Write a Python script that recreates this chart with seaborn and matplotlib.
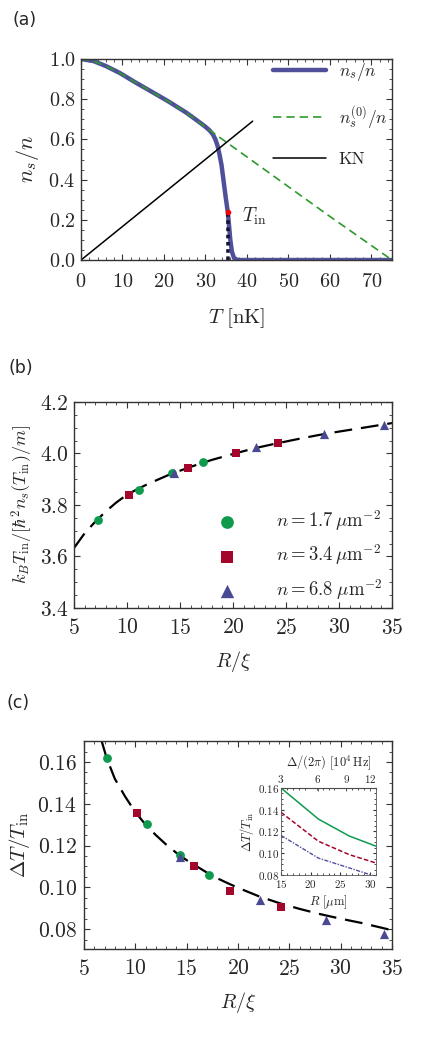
import numpy as np
import matplotlib
matplotlib.use("Agg")
import matplotlib.pyplot as plt
import seaborn as sns
from matplotlib.ticker import MultipleLocator

# ---- panel (a): superfluid fraction vs temperature
T_ns = [0, 3, 6, 9.4, 13, 17.4, 21, 25.4, 28, 30, 31, 31.8, 32.4, 32.9, 33.4, 33.9,
        34.4, 34.9, 35.4, 35.7, 36.0, 36.4, 36.9, 37.8, 45, 60, 75]
ns = [1.0, 0.99, 0.965, 0.93, 0.885, 0.833, 0.79, 0.733, 0.694, 0.663, 0.645, 0.625,
      0.60, 0.57, 0.525, 0.47, 0.39, 0.31, 0.237, 0.17, 0.10, 0.04, 0.01, 0.0, 0.0,
      0.0, 0.0]
T_ns0 = [0, 3, 6, 9.4, 13, 17.4, 21, 25.4, 30.2, 40, 50, 60, 75]
ns0 = [1.0, 0.99, 0.965, 0.93, 0.885, 0.833, 0.79, 0.733, 0.658, 0.513, 0.365, 0.217, 0.0]
T_kn = [0, 41.4]
kn = [0, 0.691]
T_in = 35.4
ns_in = 0.237

# ---- panel (b): k_B T_in / [hbar^2 n_s / m] vs R/xi
r_g = [7.23, 11.16, 14.27, 17.16]
b_g = [3.740, 3.860, 3.924, 3.966]
r_r = [10.22, 15.71, 20.24, 24.23]
b_r = [3.838, 3.945, 4.002, 4.041]
r_b = [14.39, 22.19, 28.6, 34.25]
b_b = [3.924, 4.025, 4.077, 4.109]
r_fit_b = [5, 6, 7, 8, 9, 10, 11, 12, 14, 16, 18, 20, 22, 24, 26, 28, 30, 32, 35]
fit_b = [3.633, 3.69, 3.735, 3.775, 3.81, 3.84, 3.862, 3.882, 3.918, 3.948, 3.975,
         3.998, 4.02, 4.038, 4.055, 4.071, 4.085, 4.098, 4.118]

# ---- panel (c): Delta T / T_in vs R/xi
c_g = [0.1619, 0.1301, 0.1155, 0.1061]
c_r = [0.1357, 0.1102, 0.0983, 0.0908]
c_b = [0.1147, 0.0940, 0.0845, 0.0778]
r_g_c = [7.21, 11.1, 14.34, 17.16]
r_r_c = [10.12, 15.7, 19.2, 24.2]
r_b_c = [14.37, 22.19, 28.6, 34.2]
r_fit_c = [6.72, 7.2, 8, 9, 10, 11, 12, 13, 14, 15, 16, 17, 18, 19, 20, 22, 24, 26,
           28, 30, 32, 35]
fit_c = [0.170, 0.162, 0.152, 0.1435, 0.136, 0.130, 0.125, 0.1205, 0.1165, 0.113,
         0.110, 0.107, 0.1043, 0.102, 0.0998, 0.0958, 0.0925, 0.0897, 0.0872, 0.085,
         0.083, 0.0795]

# ---- inset: Delta T / T_in vs R [um]
R_um = [15, 21.3, 26.5, 31]
in_g = [0.16, 0.1314, 0.1158, 0.1065]
in_r = [0.1376, 0.111, 0.0987, 0.091]
in_b = [0.1164, 0.0955, 0.0865, 0.0785]

labels_n = [r'$n = 1.7\,\mu\mathrm{m}^{-2}$', r'$n = 3.4\,\mu\mathrm{m}^{-2}$',
            r'$n = 6.8\;\mu\mathrm{m}^{-2}$']

green = '#0f9a4e'
red = '#a3062a'
blue = '#4a4a94'

sns.set_style("ticks")
plt.rcParams['font.family'] = ['cmr10', 'DejaVu Serif']
plt.rcParams['mathtext.fontset'] = 'cm'
plt.rcParams['axes.formatter.use_mathtext'] = True
plt.rcParams['axes.unicode_minus'] = False


def style_axes(ax, xmaj, xmin, ymaj, ymin, size, xpad, ypad, maj=4, mnr=2):
    ax.xaxis.set_major_locator(MultipleLocator(xmaj))
    ax.xaxis.set_minor_locator(MultipleLocator(xmin))
    ax.yaxis.set_major_locator(MultipleLocator(ymaj))
    ax.yaxis.set_minor_locator(MultipleLocator(ymin))
    ax.tick_params(which='both', direction='in', top=True, right=True,
                   color='#333333', labelsize=size)
    ax.tick_params(axis='x', which='major', pad=xpad)
    ax.tick_params(axis='y', which='major', pad=ypad)
    ax.tick_params(which='major', length=maj, width=0.8)
    ax.tick_params(which='minor', length=mnr, width=0.6)
    for s in ax.spines.values():
        s.set_color('#333333')
        s.set_linewidth(1.0)


fig = plt.figure(figsize=(4.22, 10.43), dpi=100)

# ================= (a)
ax = fig.add_axes([0.192, 0.7507, 0.737, 0.1927])
sns.lineplot(x=T_ns, y=ns, ax=ax, color='#50509a', linewidth=3.2, sort=False,
             estimator=None, label=r'$n_s/n$')
sns.lineplot(x=T_ns0, y=ns0, ax=ax, color='#2e9a2e', linewidth=1.2, sort=False,
             estimator=None, label=r'$n_s^{(0)}/n$')
ax.lines[-1].set_dashes([5, 3])
sns.lineplot(x=T_kn, y=kn, ax=ax, color='black', linewidth=1.1, sort=False,
             estimator=None, label='KN')
ax.plot([T_in, T_in], [0, ns_in], color='#141436', linewidth=2.6, linestyle=(0, (1, 1)),
        zorder=4)
ax.plot([T_in], [ns_in], 'o', color='red', markersize=3, zorder=5)
ax.text(38.9, 0.219, r'$T_{\mathrm{in}}$', fontsize=14, va='center', ha='left')
ax.set_xlim(0, 75)
ax.set_ylim(0, 1.0)
style_axes(ax, 10, 2, 0.2, 0.05, 14.5, 9, 4)
ax.set_xlabel(r'$T\ [\mathrm{nK}]$', fontsize=15, labelpad=11)
ax.set_ylabel(r'$n_s/n$', fontsize=16, labelpad=5)
ax.legend(loc='upper right', bbox_to_anchor=(0.985, 0.99), frameon=False,
          handlelength=3.1, labelspacing=1.2, fontsize=12.5, borderaxespad=0,
          borderpad=0, handletextpad=0.7)
fig.text(13 / 422, 1 - 20 / 1043, '(a)', family='DejaVu Sans', fontsize=12.5,
         va='center', ha='left')

# ================= (b)
ax = fig.add_axes([0.1754, 0.4171, 0.7536, 0.1975])
sns.lineplot(x=r_fit_b, y=fit_b, ax=ax, color='black', linewidth=1.6, sort=False,
             estimator=None)
ax.lines[-1].set_dashes([8, 4])
sns.scatterplot(x=r_g, y=b_g, ax=ax, color=green, marker='o', s=40, linewidth=0,
                label=labels_n[0], zorder=3)
sns.scatterplot(x=r_r, y=b_r, ax=ax, color=red, marker='s', s=34, linewidth=0,
                label=labels_n[1], zorder=3)
sns.scatterplot(x=r_b, y=b_b, ax=ax, color=blue, marker='^', s=44, linewidth=0,
                label=labels_n[2], zorder=3)
ax.set_xlim(5, 35)
ax.set_ylim(3.4, 4.2)
style_axes(ax, 5, 1, 0.2, 0.05, 15.5, 7, 4)
ax.set_xlabel(r'$R/\xi$', fontsize=14.5, labelpad=8)
ax.set_ylabel(r'$k_B T_{\mathrm{in}}/[\hbar^2 n_s(T_{\mathrm{in}})/m]$', fontsize=13,
              labelpad=3)
ax.legend(loc='lower right', bbox_to_anchor=(0.97, 0.03), frameon=False,
          markerscale=1.45, labelspacing=0.5, fontsize=13.5, handletextpad=1.6,
          borderaxespad=0, borderpad=0)
fig.text(9 / 422, 1 - 368 / 1043, '(b)', family='DejaVu Sans', fontsize=12.5,
         va='center', ha='left')

# ================= (c)
ax = fig.add_axes([0.199, 0.0901, 0.7299, 0.1994])
sns.lineplot(x=r_fit_c, y=fit_c, ax=ax, color='black', linewidth=1.6, sort=False,
             estimator=None)
ax.lines[-1].set_dashes([8, 4])
sns.scatterplot(x=r_g_c, y=c_g, ax=ax, color=green, marker='o', s=40, linewidth=0,
                zorder=3)
sns.scatterplot(x=r_r_c, y=c_r, ax=ax, color=red, marker='s', s=34, linewidth=0,
                zorder=3)
sns.scatterplot(x=r_b_c, y=c_b, ax=ax, color=blue, marker='^', s=44, linewidth=0,
                zorder=3)
ax.set_xlim(5, 35)
ax.set_ylim(0.0705, 0.170)
style_axes(ax, 5, 1, 0.02, 0.005, 15.5, 7, 5)
ax.set_xlabel(r'$R/\xi$', fontsize=14.5, labelpad=8)
ax.set_ylabel(r'$\Delta T/T_{\mathrm{in}}$', fontsize=15, labelpad=4)
fig.text(6 / 422, 1 - 703 / 1043, '(c)', family='DejaVu Sans', fontsize=12.5,
         va='center', ha='left')

# ---- inset
axi = fig.add_axes([0.6659, 0.1611, 0.2251, 0.0834])
sns.lineplot(x=R_um, y=in_g, ax=axi, color=green, linewidth=1.1, sort=False,
             estimator=None)
sns.lineplot(x=R_um, y=in_r, ax=axi, color=red, linewidth=1.1, sort=False,
             estimator=None)
axi.lines[-1].set_dashes([3, 1.5])
sns.lineplot(x=R_um, y=in_b, ax=axi, color='#5050a0', linewidth=1.0, sort=False,
             estimator=None)
axi.lines[-1].set_dashes([3, 1, 1, 1])
axi.set_xlim(15, 31)
axi.set_ylim(0.08, 0.16)
style_axes(axi, 5, 1, 0.02, 0.005, 8, 2.5, 1.5, maj=2.5, mnr=1.2)
axi.tick_params(top=False)
for s in axi.spines.values():
    s.set_linewidth(0.6)
    s.set_color('#555555')
axi.set_xlabel(r'$R\ [\mu\mathrm{m}]$', fontsize=9, labelpad=2)
axi.set_ylabel(r'$\Delta T/T_{\mathrm{in}}$', fontsize=9, labelpad=1)
top = axi.secondary_xaxis('top', functions=(lambda r: 3 * (np.asarray(r) / 15.0) ** 2,
                                            lambda d: 15.0 * np.sqrt(np.clip(d, 0, None) / 3.0)))
top.set_xticks([3, 6, 9, 12])
top.tick_params(direction='in', labelsize=8, pad=2, length=2.5, width=0.6, color='#555555')
top.set_xlabel(r'$\Delta/(2\pi)\ [10^4\,\mathrm{Hz}]$', fontsize=9, labelpad=5)

fig.savefig('out.png', dpi=100)
